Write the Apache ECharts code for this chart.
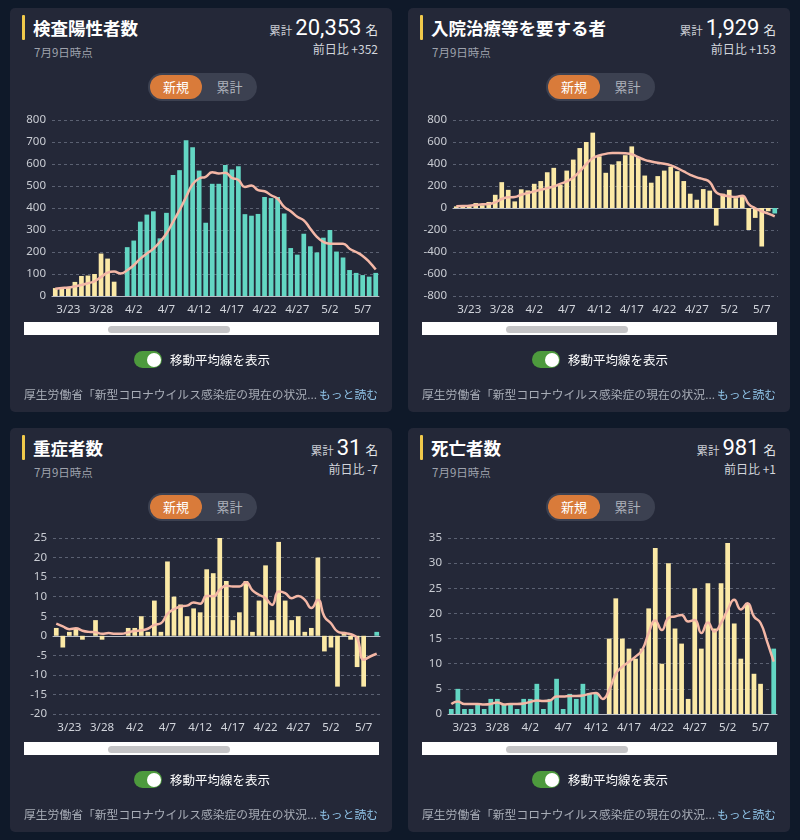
<!DOCTYPE html>
<html><head><meta charset="utf-8">
<script src="https://cdn.jsdelivr.net/npm/echarts@6/dist/echarts.min.js"></script>
<style>
body{margin:0;background:#0f1929;width:800px;height:840px;overflow:hidden;font-family:"Noto Sans CJK JP","Noto Sans",sans-serif;}
.panel{position:absolute;width:382px;height:404px;background:#242838;border-radius:5px;}
.mark{position:absolute;left:12px;top:7px;width:3px;height:25px;background:#f0c94b;border-radius:1px;}
.title{position:absolute;left:23px;top:6px;font-size:17.5px;font-weight:bold;color:#fff;line-height:28px;white-space:nowrap;}
.date{position:absolute;left:24px;top:36px;font-size:11.5px;color:#9fa3ad;line-height:16px;}
.total{position:absolute;right:14px;top:6px;color:#fff;line-height:28px;white-space:nowrap;}
.total .lbl{font-size:11.5px;color:#c9ccd3;}
.total .num{font-size:22px;margin:0 4px 0 3px;font-family:Roboto,"Noto Sans",sans-serif;}
.total .unit{font-size:12.5px;color:#e6e8ec;}
.diff{position:absolute;right:14px;top:33px;font-size:12px;color:#d3d6dc;line-height:16px;}
.toggle{position:absolute;left:138px;top:65px;width:109px;height:28px;background:#3c4151;border-radius:14px;}
.toggle .on{position:absolute;left:2px;top:2px;width:52px;height:24px;background:#d97b3a;border-radius:12px;color:#fff;font-size:13px;line-height:24px;text-align:center;}
.toggle .off{position:absolute;left:56px;top:2px;width:51px;height:24px;color:#aeb2bc;font-size:13px;line-height:24px;text-align:center;}
.chart{position:absolute;left:0;top:0;width:382px;height:318px;}
.slider{position:absolute;left:14px;top:314px;width:355px;height:13px;background:#fff;}
.slider .h{position:absolute;left:84px;top:4px;width:122px;height:7px;background:#c4c4c6;border-radius:4px;}
.sw{position:absolute;left:124px;top:343px;width:28px;height:17px;background:#4d9a3d;border-radius:9px;}
.sw .k{position:absolute;right:1.5px;top:1.5px;width:14px;height:14px;background:#fff;border-radius:7px;}
.swt{position:absolute;left:160px;top:342px;font-size:12.5px;color:#fff;line-height:19px;white-space:nowrap;}
.foot{position:absolute;left:14px;top:377px;width:302px;font-size:11.8px;color:#a8adb7;line-height:17px;white-space:nowrap;overflow:hidden;}
.more{position:absolute;right:14px;top:377px;font-size:11.8px;color:#8fc3e7;line-height:17px;}
</style></head>
<body>
<script>
// ---------- data ----------
const categories = ['3/21','3/22','3/23','3/24','3/25','3/26','3/27','3/28','3/29','3/30','3/31','4/1','4/2','4/3','4/4','4/5','4/6','4/7','4/8','4/9','4/10','4/11','4/12','4/13','4/14','4/15','4/16','4/17','4/18','4/19','4/20','4/21','4/22','4/23','4/24','4/25','4/26','4/27','4/28','4/29','4/30','5/1','5/2','5/3','5/4','5/5','5/6','5/7','5/8','5/9'];
const xTickLabels = ['3/23','3/28','4/2','4/7','4/12','4/17','4/22','4/27','5/2','5/7'];

const positiveValues = [36,36,40,64,91,93,100,193,170,65,0,222,252,338,370,385,262,378,550,572,708,676,570,333,510,510,596,575,590,372,365,373,450,445,450,375,218,188,283,226,198,265,300,202,175,118,105,95,88,105];
const positiveAvg = [33,36,39,44,50,58,67,86,106,111,102,117,140,170,193,215,246,284,337,390,450,508,534,542,563,557,560,537,527,496,502,481,476,458,442,405,385,360,344,306,269,246,238,238,238,215,200,182,155,120];
const positiveTealRanges = [[11,49]];
const positiveTicks = [0,100,200,300,400,500,600,700,800];

const hospitalValues = [15,20,15,45,25,55,120,235,165,60,170,160,220,245,325,365,210,340,440,545,600,685,470,320,395,425,480,560,465,295,230,290,340,375,335,245,130,75,172,158,-160,130,165,90,105,-200,-90,-350,-30,-50];
const hospitalAvg = [15,18,21,27,33,36,51,82,97,100,121,136,151,166,181,196,220,242,278,332,399,453,477,492,501,501,498,489,462,438,423,411,402,387,363,332,302,278,263,236,142,118,106,100,112,36,-3,-30,-51,-76];
const hospitalTealRanges = [[49,49]];
const hospitalTicks = [-800,-600,-400,-200,0,200,400,600,800];

const severeValues = [2,-3,1,2,-1,0,4,-1,0,0,0,2,2,5,1,9,1,19,10,8,5,7,6,17,16,25,14,4,6,14,1,9,18,4,24,9,4,5,1,2,20,-4,-3,-13,1,-1,-8,-13,0,1];
const severeAvg = [3.1,2.4,1.7,1.9,1.3,1.0,0.9,0.5,0.7,0.5,0.5,0.9,1.2,1.4,1.8,2.8,3.2,5.6,6.8,7.5,7.7,8.5,8.2,10.2,10.1,11.8,12.8,12.6,12.6,13.7,11.6,10.5,9.6,7.9,11.3,10.9,9.6,10.2,9.2,7.1,9.2,4.9,3.2,1.1,0.7,0.4,-0.6,-6.1,-5.3,-4.6];
const severeTealRanges = [[49,49]];
const severeTicks = [-20,-15,-10,-5,0,5,10,15,20,25];

const deathValues = [1,5,1,1,2,1,3,3,2,2,1,3,3,6,1,3,7,1,4,3,6,4,4,0,15,23,15,13,11,13,21,33,10,30,17,14,3,25,13,26,17,26,34,18,11,22,8,6,0,13];
const deathAvg = [2.0,2.5,2.0,2.0,2.0,1.9,2.0,2.3,1.9,2.0,2.0,2.1,2.4,2.7,2.6,2.7,3.5,3.5,3.6,3.6,3.7,4.0,4.2,3.0,4.8,8.0,9.4,10.4,11.4,12.7,16.1,18.6,16.7,19.1,19.4,19.7,18.4,18.7,16.1,18.2,16.4,18.1,20.7,22.7,20.8,22.0,19.4,18.1,14.4,10.4];
const deathTealRanges = [[0,23],[49,49]];
const deathTicks = [0,5,10,15,20,25,30,35];

const panels = [
  {left:10, top:8, title:'検査陽性者数', total:'20,353', diff:'前日比 +352', values:positiveValues, avg:positiveAvg, teal:positiveTealRanges, ticks:positiveTicks, grid:{left:42,top:112,width:327,height:176}},
  {left:408, top:8, title:'入院治療等を要する者', total:'1,929', diff:'前日比 +153', values:hospitalValues, avg:hospitalAvg, teal:hospitalTealRanges, ticks:hospitalTicks, grid:{left:45,top:112,width:325,height:176}},
  {left:10, top:428, title:'重症者数', total:'31', diff:'前日比 -7', values:severeValues, avg:severeAvg, teal:severeTealRanges, ticks:severeTicks, grid:{left:43,top:110,width:327,height:176}},
  {left:408, top:428, title:'死亡者数', total:'981', diff:'前日比 +1', values:deathValues, avg:deathAvg, teal:deathTealRanges, ticks:deathTicks, grid:{left:40,top:110,width:329,height:176}}
];

// ---------- build ----------
const YELLOW = '#fbe9a6', TEAL = '#63d6c3', LINE = '#f4b7a6';
function isTeal(i, ranges){ return ranges.some(r => i >= r[0] && i <= r[1]); }

panels.forEach((p, n) => {
  const el = document.createElement('div');
  el.className = 'panel';
  el.style.left = p.left + 'px'; el.style.top = p.top + 'px';
  el.innerHTML =
    '<div class="mark"></div>' +
    '<div class="title">' + p.title + '</div>' +
    '<div class="date">7月9日時点</div>' +
    '<div class="total"><span class="lbl">累計</span><span class="num">' + p.total + '</span><span class="unit">名</span></div>' +
    '<div class="diff">' + p.diff + '</div>' +
    '<div class="toggle"><div class="on">新規</div><div class="off">累計</div></div>' +
    '<div class="chart" id="c' + n + '"></div>' +
    '<div class="slider"><div class="h"></div></div>' +
    '<div class="sw"><div class="k"></div></div>' +
    '<div class="swt">移動平均線を表示</div>' +
    '<div class="foot">厚生労働省「新型コロナウイルス感染症の現在の状況...</div>' +
    '<div class="more">もっと読む</div>';
  document.body.appendChild(el);

  const ch = echarts.init(document.getElementById('c' + n));
  const yMin = p.ticks[0], yMax = p.ticks[p.ticks.length - 1];
  const yellowData = p.values.map((v, i) => isTeal(i, p.teal) ? '-' : v);
  const tealData = p.values.map((v, i) => isTeal(i, p.teal) ? v : '-');
  ch.setOption({
    animation: false,
    grid: p.grid,
    xAxis: {
      type: 'category', data: categories, boundaryGap: true,
      axisTick: {show: false},
      axisLine: {show: true, onZero: true, lineStyle: {color: '#b9bdc6', width: 1}},
      axisLabel: {color: '#d2d5dc', fontSize: 11.5, margin: 8,
        interval: (idx, val) => xTickLabels.includes(val),
        fontFamily: 'Noto Sans, sans-serif'}
    },
    yAxis: {
      type: 'value', min: yMin, max: yMax, interval: p.ticks[1] - p.ticks[0],
      axisLine: {show: false}, axisTick: {show: false},
      axisLabel: {color: '#c9ccd3', fontSize: 11.5, margin: 6, fontFamily: 'Noto Sans, sans-serif'},
      splitLine: {lineStyle: {color: '#5b6172', type: [3, 3], width: 1}}
    },
    series: [
      {type: 'bar', data: yellowData, barWidth: '72%', barGap: '-100%', itemStyle: {color: YELLOW}},
      {type: 'bar', data: tealData, barWidth: '72%', barGap: '-100%', itemStyle: {color: TEAL}},
      {type: 'line', data: p.avg, smooth: true, showSymbol: false, symbol: 'none',
       lineStyle: {color: LINE, width: 2.5}, z: 5}
    ]
  });
});
</script>
</body></html>
